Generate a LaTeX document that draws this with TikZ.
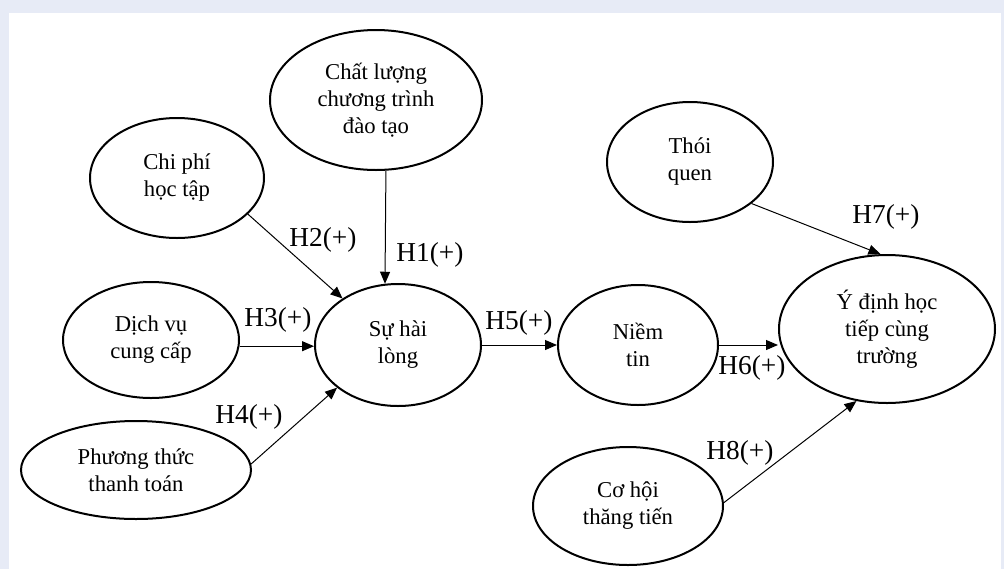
\documentclass[tikz,border=0pt]{standalone}
\usepackage{fontspec}
\setmainfont{Liberation Serif}
\usetikzlibrary{shapes.geometric,arrows.meta}
\definecolor{framefill}{HTML}{E7EBF6}
\begin{document}
\begin{tikzpicture}[x=0.75pt,y=-0.75pt,
  factor/.style 2 args={ellipse,draw,line width=1.5pt,inner sep=0pt,align=center,
    minimum width=#1*1.5pt,minimum height=#2*1.5pt,
    font=\fontsize{17}{20.25}\selectfont},
  link/.style={line width=0.75pt,-{Triangle[length=9pt,width=7.5pt]}},
  hyp/.style={font=\fontsize{20.5}{24}\selectfont,inner sep=0pt}]
\useasboundingbox (0,0) rectangle (1004,569);
% page frame
\fill[framefill] (0,0) rectangle (1004,569);
\fill[white] (9,13) rectangle (1001,569);

% factors
\node[factor={106}{70}] (clct) at (376,100) {Chất lượng\\chương trình\\đào tạo};
\node[factor={87}{60}] (chiphi) at (177,178) {Chi phí\\học tập};
\node[factor={88}{58}] (dichvu) at (151,340) {Dịch vụ\\cung cấp};
\node[factor={115}{49}] (ptt) at (136,470) {Phương thức\\thanh toán};
\node[factor={83}{61}] (hailong) at (398,345) {Sự hài\\lòng};
\node[factor={80}{60}] (niemtin) at (638,345) {Niềm\\tin};
\node[factor={83}{60}] (thoiquen) at (690,162) {Thói\\quen};
\node[factor={108}{74}] (ydinh) at (887,329) {Ý định học\\tiếp cùng\\trường};
\node[factor={95}{59}] (cohoi) at (628,506) {Cơ hội\\thăng tiến};

% hypotheses
\node[hyp] (h1) at (430,255) {H1(+)};
\node[hyp] (h2) at (323,240) {H2(+)};
\node[hyp] (h3) at (278,320) {H3(+)};
\node[hyp] (h4) at (249,417) {H4(+)};
\node[hyp] (h5) at (519,323) {H5(+)};
\node[hyp] (h6) at (752,368) {H6(+)};
\node[hyp] (h7) at (886,217) {H7(+)};
\node[hyp] (h8) at (740,453) {H8(+)};

% paths
\draw[link] (clct.-82.6) -- (hailong.102.2);
\draw[link] (chiphi.-27.5) -- (hailong.140.4);
\draw[link] (dichvu.-4) -- (dichvu.-4 -| hailong.west);
\draw[link] (ptt.3.5) -- (hailong.-145.4);
\draw[link] (hailong) -- (niemtin);
\draw[link] (niemtin.east) -- (niemtin.east -| ydinh.west);
\draw[link] (thoiquen.-34.7) -- (ydinh.95);
\draw[link] (cohoi.2) -- (ydinh.-113.1);
\end{tikzpicture}
\end{document}
